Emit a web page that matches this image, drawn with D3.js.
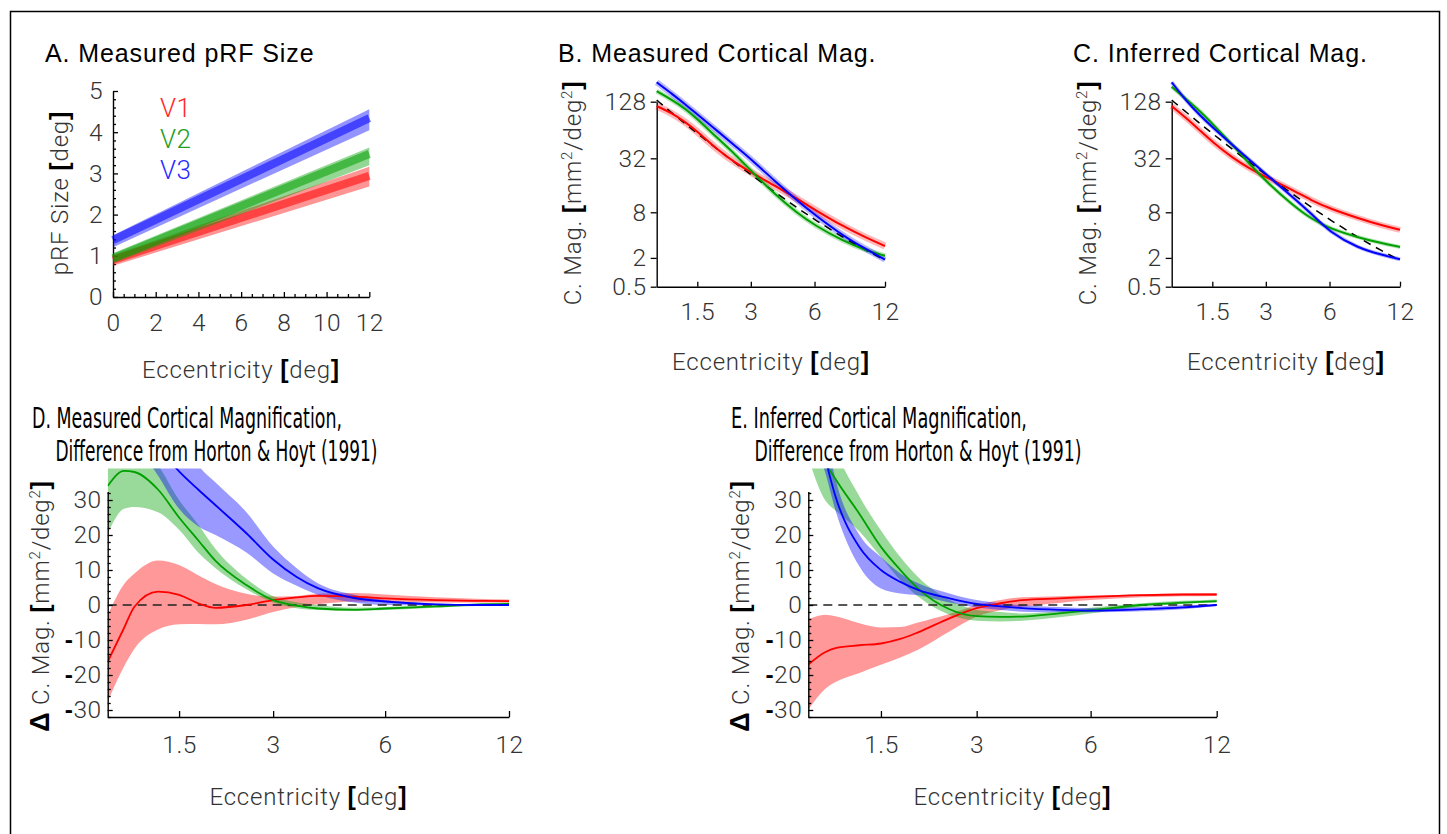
<!DOCTYPE html>
<html>
<head>
<meta charset="utf-8">
<script src="https://cdn.jsdelivr.net/npm/d3@7"></script>
<style>
  body { margin: 0; background: #fff; }
  svg text { font-family: Roboto, "Liberation Sans", sans-serif; }
  .ttl { font-family: "Liberation Sans", Arial, sans-serif !important; font-size: 25px; letter-spacing: 0.9px; fill: #000; }
  .ttlN { font-family: "Liberation Sans Narrow", "DejaVu Sans Condensed", "Liberation Sans", sans-serif !important; font-size: 27.5px; fill: #000; }
  .tk { font-weight: 300; font-size: 24.5px; fill: #333; letter-spacing: 0.5px; }
  .lab { font-weight: 300; font-size: 24px; fill: #333; letter-spacing: 0.8px; }
  .brk { font-family: "Liberation Sans", sans-serif !important; font-weight: 700; fill: #000; }
  .minus { font-family: "Liberation Sans", sans-serif !important; font-weight: 700; fill: #000; }
</style>
</head>
<body>
<svg id="fig" width="1447" height="834"></svg>
<script>
// ---- panel A: pRF size vs eccentricity (end points of the fitted lines)
var eccA = [0, 12];
var v1Size = [0.90, 2.94], v1Lo = [0.76, 2.68], v1Hi = [1.02, 3.16];
var v2Size = [0.94, 3.47], v2Lo = [0.82, 3.20], v2Hi = [1.06, 3.63];
var v3Size = [1.38, 4.34], v3Lo = [1.21, 4.05], v3Hi = [1.50, 4.56];
var areaNames = ["V1", "V2", "V3"];

// ---- panels B, C: cortical magnification [mm^2/deg^2]
var eccMag = [0.75, 1, 1.25, 1.5, 2, 2.5, 3, 4, 5, 6, 8, 10, 12];
var hortonHoyt = [133, 97.7, 74.8, 59.1, 39.6, 28.3, 21.3, 13.3, 9.05, 6.57, 3.91, 2.59, 1.84];
var bRed   = [115, 97, 78, 62, 39, 28.5, 22.5, 15.8, 11.5, 8.6, 5.4, 3.9, 3.0];
var bGreen = [165, 134, 108, 84, 52, 35, 23.5, 12.5, 7.9, 5.6, 3.5, 2.6, 2.16];
var bBlue  = [205, 155, 120, 94, 62, 43, 31.5, 17.5, 11, 7.5, 4.1, 2.7, 1.88];
var cRed   = [115, 85, 63, 48, 32, 24.5, 20, 14.7, 10.9, 8.9, 6.8, 5.6, 4.9];
var cGreen = [184, 134, 101, 75, 44, 27, 18.1, 10, 6.6, 5.1, 3.9, 3.3, 2.9];
var cBlue  = [205, 128, 91, 69, 44, 30, 21.6, 12.4, 7.6, 4.6, 2.8, 2.25, 1.9];
var magTicks = [0.5, 2, 8, 32, 128];
var eccTicks = [1.5, 3, 6, 12];

// ---- panels D, E: difference from Horton & Hoyt
var eccDiff = [0.75, 0.9, 1, 1.25, 1.5, 1.75, 2, 2.5, 3, 3.5, 4, 5, 6, 8, 10, 12];
var dRed     = [-16.2, -6.5, -0.5, 3.8, 2.9, 0.5, -0.8, 0.0, 1.4, 2.2, 2.6, 2.4, 1.9, 1.4, 1.2, 1.1];
var dRedHi   = [-2.9, 6, 9, 12.7, 11.4, 8.5, 6, 3.2, 2.4, 2.6, 3.2, 3.4, 3.0, 2.2, 1.8, 1.6];
var dRedLo   = [-27.6, -17.5, -12.5, -7, -5.5, -5.4, -5.5, -4.2, -2, -0.6, 0.2, 1, 0.9, 0.7, 0.7, 0.7];
var dGreen   = [34, 38.3, 38, 33, 25, 18.5, 12.6, 5.7, 1.4, -0.2, -1.0, -1.4, -1.0, -0.4, 0.1, 0.3];
var dGreenHi = [50, 50, 48, 40, 30, 23, 16, 7.5, 2.5, 0.8, 0, -0.8, -0.6, 0, 0.4, 0.7];
var dGreenLo = [20.5, 27.5, 28, 26.5, 21.5, 15, 10.5, 4.5, 0.7, -0.9, -1.4, -1.6, -1.4, -0.8, -0.3, -0.1];
var dBlue    = [63, 57, 52, 45, 38.2, 33, 28.5, 20.5, 13, 8, 4.8, 2.0, 1.0, 0.2, 0, 0];
var dBlueHi  = [95, 88, 82, 66, 50, 40, 35, 26.5, 16.7, 10.5, 6.2, 2.9, 1.4, 0.4, 0.2, 0.2];
var dBlueLo  = [60, 52, 47, 37, 27.5, 22.5, 20, 15, 9, 5.5, 2.9, 0.7, 0, -0.1, -0.1, -0.1];
var eRed     = [-17, -13.5, -12.3, -11.5, -11, -9.7, -7.8, -3.8, -0.9, 0.5, 1.4, 1.9, 2.3, 2.8, 3.0, 3.0];
var eRedHi   = [-4.1, -2.8, -3.2, -5.2, -6.4, -6.3, -5.0, -2.6, 0, 1.4, 2.2, 2.5, 2.7, 3.1, 3.3, 3.4];
var eRedLo   = [-29.9, -24, -22, -19.4, -17.1, -15, -12.8, -7.6, -3.3, -1.5, -0.5, 0.6, 1.4, 2.2, 2.5, 2.6];
var eGreen   = [55, 41, 36, 26, 16.6, 10, 4.7, -1.2, -3.2, -3.4, -3.3, -2.4, -1.5, 0, 0.7, 1.1];
var eGreenHi = [75, 55, 45, 31, 21.3, 13.7, 8, 1.4, -1.4, -2, -2.4, -1.8, -0.8, 0.5, 1.2, 1.6];
var eGreenLo = [42, 30, 27, 21, 13.7, 7.1, 2.4, -2.8, -4.5, -4.7, -4.5, -3.5, -2.4, -0.5, 0.3, 0.7];
var eBlue    = [60, 42, 31, 16.5, 10, 6.6, 4.3, 1.9, 0.3, -0.4, -0.9, -1.4, -1.6, -1.2, -0.7, 0];
var eBlueHi  = [75, 50, 36, 20, 13.7, 9, 6.2, 3.3, 1.4, 0.5, -0.1, -0.6, -0.9, -0.6, -0.1, 0.3];
var eBlueLo  = [50, 38, 27, 11, 4.7, 3.3, 2.8, 0.7, -0.7, -1.4, -1.9, -2.1, -2.1, -1.8, -1.2, -0.3];
var diffTicks = [-30, -20, -10, 0, 10, 20, 30];

var RED = "#ff0000", GREEN = "#00a000", BLUE = "#0000ff";

var svg = d3.select("#fig");

// outer frame (open at the bottom)
svg.append("path")
  .attr("d", "M10.5,834V11.5H1439.5V834")
  .attr("fill", "none").attr("stroke", "#000").attr("stroke-width", 1.5);

function zip(xs, ys) {
  return xs.map(function(x, i) { return [x, ys[i]]; });
}
function zip3(xs, lo, hi) {
  return xs.map(function(x, i) { return [x, lo[i], hi[i]]; });
}

function styleAxis(g) {
  g.attr("font-family", null).attr("font-size", null);
  g.selectAll(".domain").attr("stroke", "#000").attr("stroke-width", 1.4);
  g.selectAll(".tick line").attr("stroke", "#000").attr("stroke-width", 1.3);
  g.selectAll(".tick text").attr("class", "tk").attr("fill", null);
}

function title(x, y, txt) {
  svg.append("text").attr("class", "ttl").attr("x", x).attr("y", y).text(txt);
}

// axis label with bold brackets and superscripts
function axisLabel(x, y, rotate, parts) {
  var t = svg.append("text").attr("class", "lab")
    .attr("text-anchor", "middle")
    .attr("transform", "translate(" + x + "," + y + ")" + (rotate ? " rotate(-90)" : ""));
  parts.forEach(function(p) {
    var s = t.append("tspan").text(p[0]);
    if (p[1] == "b") s.attr("class", "brk").style("font-size", "25px");
    if (p[1] == "sup") s.attr("baseline-shift", "super").style("font-size", "15px");
    if (p[1] == "d") s.attr("class", "brk").style("font-size", "27px");
  });
  return t;
}

var eccParts = [["Eccentricity "], ["[", "b"], ["deg"], ["]", "b"]];
var magParts = [["C. Mag. "], ["[", "b"], ["mm"], ["2", "sup"], ["/deg"], ["2", "sup"], ["]", "b"]];
var dMagParts = [["\u0394", "d"], [" C. Mag. "], ["[", "b"], ["mm"], ["2", "sup"], ["/deg"], ["2", "sup"], ["]", "b"]];

// ================= A
function plotA() {
  var x = d3.scaleLinear().domain([0, 12]).range([113, 369.3]);
  var y = d3.scaleLinear().domain([0, 5]).range([297, 91]);

  var gx = svg.append("g").attr("transform", "translate(0," + y(0) + ")")
    .call(d3.axisBottom(x).tickValues(d3.range(0, 13, 2)).tickSize(-5).tickSizeOuter(0).tickPadding(17));
  styleAxis(gx);
  var gxm = svg.append("g").attr("transform", "translate(0," + y(0) + ")")
    .call(d3.axisBottom(x).tickValues(d3.range(0, 12, 0.5).filter(function(d) { return d % 2 != 0; }))
      .tickSize(-3).tickSizeOuter(0).tickFormat(""));
  styleAxis(gxm);
  gxm.select(".domain").remove();

  var gy = svg.append("g").attr("transform", "translate(" + x(0) + ",0)")
    .call(d3.axisLeft(y).ticks(5).tickSize(-5).tickSizeOuter(0).tickPadding(10));
  styleAxis(gy);
  var gym = svg.append("g").attr("transform", "translate(" + x(0) + ",0)")
    .call(d3.axisLeft(y).tickValues(d3.range(0, 5, 0.2).filter(function(d) { return Math.abs(d - Math.round(d)) > 0.01; }))
      .tickSize(-3).tickSizeOuter(0).tickFormat(""));
  styleAxis(gym);
  gym.select(".domain").remove();

  var series = [
    {c: RED, mid: v1Size, lo: v1Lo, hi: v1Hi},
    {c: GREEN, mid: v2Size, lo: v2Lo, hi: v2Hi},
    {c: BLUE, mid: v3Size, lo: v3Lo, hi: v3Hi}
  ];
  var area = d3.area().x(function(d) { return x(d[0]); })
    .y0(function(d) { return y(d[1]); }).y1(function(d) { return y(d[2]); });
  var line = d3.line().x(function(d) { return x(d[0]); }).y(function(d) { return y(d[1]); });

  series.forEach(function(s) {
    svg.append("path").datum(zip3(eccA, s.lo, s.hi)).attr("d", area)
      .attr("fill", s.c).attr("fill-opacity", 0.42);
    svg.append("path").datum(zip(eccA, s.mid)).attr("d", line)
      .attr("fill", "none").attr("stroke", s.c).attr("stroke-opacity", 0.55).attr("stroke-width", 8);
  });

  svg.selectAll(".legA").data(areaNames).join("text")
    .attr("class", "tk")
    .attr("x", 160)
    .attr("y", function(d, i) { return 117 + i * 31; })
    .style("font-size", "26px")
    .style("fill", function(d, i) { return ["#ff2a2a", "#1ea01e", "#2a2aff"][i]; })
    .text(function(d) { return d; });

  title(45, 62, "A. Measured pRF Size");
  axisLabel(241, 378, false, eccParts);
  axisLabel(68, 193, true, [["pRF Size "], ["[", "b"], ["deg"], ["]", "b"]]);
}

// ================= B and C
function plotMag(x0, ttl, red, green, blue, wRed, wGreen, wBlue) {
  var x = d3.scaleSymlog().constant(1).domain([0.75, 12]).range([x0, x0 + 228.3]);
  var y = d3.scaleSymlog().constant(1).domain([0.5, 128]).range([286.7, 101.7]);

  var gx = svg.append("g").attr("transform", "translate(0," + y(0.5) + ")")
    .call(d3.axisBottom(x).tickValues(eccTicks).tickSize(-5).tickSizeOuter(0).tickPadding(16)
      .tickFormat(function(d) { return d; }));
  styleAxis(gx);
  var gy = svg.append("g").attr("transform", "translate(" + x(0.75) + ",0)")
    .call(d3.axisLeft(y).tickValues(magTicks).tickSize(6).tickSizeOuter(0).tickPadding(4)
      .tickFormat(function(d) { return d; }));
  styleAxis(gy);

  var line = d3.line().curve(d3.curveBasis)
    .x(function(d) { return x(d[0]); }).y(function(d) { return y(d[1]); });

  // confidence bands (drawn as wide translucent strokes)
  [[red, RED, wRed], [green, GREEN, wGreen], [blue, BLUE, wBlue]].forEach(function(s) {
    svg.append("path").datum(zip(eccMag, s[0])).attr("d", line)
      .attr("fill", "none").attr("stroke", s[1]).attr("stroke-opacity", 0.28)
      .attr("stroke-width", s[2]).attr("stroke-linecap", "butt");
  });
  svg.append("path").datum(zip(eccMag, hortonHoyt)).attr("d", line)
    .attr("fill", "none").attr("stroke", "#000").attr("stroke-width", 1.5)
    .attr("stroke-dasharray", "8,6");
  [[red, RED], [green, GREEN], [blue, BLUE]].forEach(function(s) {
    svg.append("path").datum(zip(eccMag, s[0])).attr("d", line)
      .attr("fill", "none").attr("stroke", s[1]).attr("stroke-width", 2);
  });

  title(x0 - 98.7, 62, ttl);
  axisLabel(x0 + 114.3, 370, false, eccParts);
  axisLabel(x0 - 76, 193, true, magParts);
}

// ================= D and E
function plotDiff(id, x0, width, ttl1, ttl2, tx, tlen1, tlen2, ser) {
  var x = d3.scaleSymlog().constant(1).domain([0.75, 12]).range([x0, x0 + width]);
  var y = d3.scaleLinear().domain([-32, 39]).range([717, 468.5]);
  var yAx = y.copy().domain([-32, 32.4]).range([y(-32), y(32.4)]);

  svg.append("clipPath").attr("id", id).append("rect")
    .attr("x", x(0.75)).attr("y", y(39))
    .attr("width", x(12) - x(0.75) + 2).attr("height", y(-32) - y(39));
  var plot = svg.append("g").attr("clip-path", "url(#" + id + ")");

  var area = d3.area().curve(d3.curveMonotoneX).x(function(d) { return x(d[0]); })
    .y0(function(d) { return y(d[1]); }).y1(function(d) { return y(d[2]); });
  var line = d3.line().curve(d3.curveMonotoneX)
    .x(function(d) { return x(d[0]); }).y(function(d) { return y(d[1]); });

  ser.forEach(function(s) {
    plot.append("path").datum(zip3(eccDiff, s.lo, s.hi)).attr("d", area)
      .attr("fill", s.c).attr("fill-opacity", 0.4);
  });
  plot.append("path").datum(zip([0.75, 12], [0, 0])).attr("d", line)
    .attr("fill", "none").attr("stroke", "#222").attr("stroke-width", 1.5)
    .attr("stroke-dasharray", "9,6");
  ser.forEach(function(s) {
    plot.append("path").datum(zip(eccDiff, s.mid)).attr("d", line)
      .attr("fill", "none").attr("stroke", s.c).attr("stroke-width", 1.8);
  });

  var gx = svg.append("g").attr("transform", "translate(0," + y(-32) + ")")
    .call(d3.axisBottom(x).tickValues(eccTicks).tickSize(-6).tickSizeOuter(0).tickPadding(19)
      .tickFormat(function(d) { return d; }));
  styleAxis(gx);

  var gy = svg.append("g").attr("transform", "translate(" + x(0.75) + ",0)")
    .call(d3.axisLeft(yAx).tickValues(diffTicks).tickSize(-5).tickSizeOuter(0).tickPadding(6));
  styleAxis(gy);
  gy.selectAll(".tick text").each(function(d) {
    var t = d3.select(this).text("");
    if (d < 0) t.append("tspan").attr("class", "minus").text("-");
    t.append("tspan").text(Math.abs(d));
  });
  var gym = svg.append("g").attr("transform", "translate(" + x(0.75) + ",0)")
    .call(d3.axisLeft(yAx).tickValues(d3.range(-32, 33, 2).filter(function(d) { return d % 10 != 0; }))
      .tickSize(-3).tickSizeOuter(0).tickFormat(""));
  styleAxis(gym);
  gym.select(".domain").remove();

  svg.append("text").attr("class", "ttlN").attr("x", tx).attr("y", 427.5)
    .attr("textLength", tlen1).attr("lengthAdjust", "spacingAndGlyphs").text(ttl1);
  svg.append("text").attr("class", "ttlN").attr("x", tx + 23.5).attr("y", 461)
    .attr("textLength", tlen2).attr("lengthAdjust", "spacingAndGlyphs").text(ttl2);
  axisLabel(x0 + width / 2, 805, false, eccParts);
  axisLabel(x0 - 59, 606, true, dMagParts);
}

plotA();
plotMag(656.7, "B. Measured Cortical Mag.", bRed, bGreen, bBlue, 7, 5, 6);
plotMag(1171.7, "C. Inferred Cortical Mag.", cRed, cGreen, cBlue, 6, 4, 4);

plotDiff("clipD", 107.7, 401.3, "D. Measured Cortical Magnification,",
  "Difference from Horton & Hoyt (1991)", 32, 310, 322, [
  {c: RED, mid: dRed, lo: dRedLo, hi: dRedHi},
  {c: GREEN, mid: dGreen, lo: dGreenLo, hi: dGreenHi},
  {c: BLUE, mid: dBlue, lo: dBlueLo, hi: dBlueHi}
]);
plotDiff("clipE", 808.3, 408.4, "E. Inferred Cortical Magnification,",
  "Difference from Horton & Hoyt (1991)", 731, 296, 327, [
  {c: RED, mid: eRed, lo: eRedLo, hi: eRedHi},
  {c: GREEN, mid: eGreen, lo: eGreenLo, hi: eGreenHi},
  {c: BLUE, mid: eBlue, lo: eBlueLo, hi: eBlueHi}
]);
</script>
</body>
</html>
